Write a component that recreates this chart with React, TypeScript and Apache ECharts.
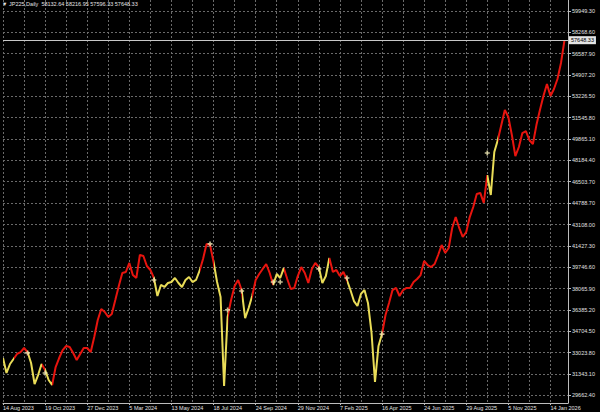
import React, { useEffect, useRef } from 'react';
import * as echarts from 'echarts';

const TITLE = '▼ JP225,Daily  58132.64 58216.95 57596.33 57648.33';
const LAST_PRICE = 57648.33;

const DATE_LABELS = [
  '14 Aug 2023', '19 Oct 2023', '27 Dec 2023', '5 Mar 2024', '13 May 2024', '18 Jul 2024', '24 Sep 2024',
  '29 Nov 2024', '7 Feb 2025', '16 Apr 2025', '24 Jun 2025', '29 Aug 2025', '5 Nov 2025', '14 Jan 2026',
];

const PRICE_TICKS = [
  29662.40, 31343.10, 33023.80, 34704.50, 36385.20, 38065.90, 39746.60, 41427.30, 43108.00, 44788.70,
  46503.70, 48184.40, 49865.10, 51545.80, 53226.50, 54907.20, 56587.90, 58268.60, 59949.30,
];

// closes sampled along the chart (about every 4 trading days)
const CLOSE: (number | null)[] = [
  32600, 31420, 32130, 32520, 32920, 33070, 33390, 33070, 32210, 30550,
  31260, 32130, 31660, 30870, 30470, 31890, 32600, 33230, 33550, 33470,
  33000, 32440, 32920, 33390, 33390, 33070, 34260, 35600, 36460, 36230,
  35830, 36070, 37170, 38280, 39300, 39380, 40090, 39140, 38910, 40720,
  40640, 39850, 39540, 38910, 37490, 38360, 38200, 38510, 38590, 38910,
  38510, 38200, 38750, 38990, 38590, 38750, 39460, 40400, 41590, 41510,
  40170, 38590, 37410, 30400, 35830, 37170, 38280, 38750, 37960, 35750,
  36540, 37490, 38750, 39220, 39620, 40010, 39300, 38360, 39220, 38910,
  39690, 38830, 38040, 38120, 39060, 39770, 39300, 38510, 39620, 40090,
  39770, 38510, 39060, 40480, 39380, 39540, 39060, 39380, 38750, 37960,
  37090, 36700, 37650, 37960, 36940, 34650, 30710, 33550, 34490, 35990,
  36940, 37960, 38120, 37490, 37960, 38120, 38120, 38590, 38830, 39140,
  40250, 39930, 39770, 40010, 40720, 41510, 40880, 41270, 42850, 43710,
  42850, 42140, 42530, 43710, 44500, 45530, 45610, 44820, 47020, 45450,
  48840, 49780, 50960, 52150, 51600, 50180, 48520, 49230, 50330, 50490,
  49780, 49470, 50960, 52150, 53250, 54200, 53250, 53800, 54590, 55850,
  57648.33, null,
];

// trend colouring: [fromIndex, toIndex, trend]
const TREND: [number, number, 'up' | 'down'][] = [
  [0, 3, 'down'], [3, 7, 'up'], [7, 11, 'down'], [11, 12, 'up'], [12, 14, 'down'],
  [14, 43, 'up'], [43, 56, 'down'], [56, 60, 'up'], [60, 64, 'down'], [64, 68, 'up'],
  [68, 71, 'down'], [71, 77, 'up'], [77, 80, 'down'], [80, 90, 'up'], [90, 93, 'down'],
  [93, 98, 'up'], [98, 108, 'down'], [108, 138, 'up'], [138, 141, 'down'], [141, 200, 'up'],
];

// signal crosses [index, price]
const SIGNALS: [number, number][] = [
  [7, 33000], [12, 31420], [43, 38750], [59, 41590], [64, 36390], [68, 37880],
  [77, 38590], [79, 38590], [90, 39620], [98, 38910], [108, 34490], [138, 48760],
];

const UP_COLOR = '#e8140e';
const DOWN_COLOR = '#e9dc57';
const TEXT_COLOR = '#e2e2e2';
const FONT = 'Liberation Sans';

export default function App() {
  const ref = useRef<HTMLDivElement>(null);
  useEffect(() => {
    if (!ref.current) return;
    const chart = echarts.init(ref.current, undefined, { renderer: 'svg' });
    const categories = CLOSE.map((_, i) => String(i));
    const gridLine = { show: true, lineStyle: { color: '#6a6a6a', type: [2, 2] as any, width: 1 } };
    chart.setOption({
      animation: false,
      backgroundColor: '#000000',
      title: {
        text: TITLE,
        left: 2,
        top: 1,
        padding: 0,
        textStyle: { color: TEXT_COLOR, fontSize: 5.5, fontWeight: 'normal', fontFamily: FONT },
      },
      grid: { left: 0, right: 32, top: 0, bottom: 9 },
      xAxis: {
        type: 'category',
        boundaryGap: false,
        data: categories,
        axisLine: { show: true, lineStyle: { color: '#bdbdbd', width: 1 } },
        axisTick: { show: true, length: 2, interval: (i: number) => i % 12 === 0, lineStyle: { color: '#bdbdbd' } },
        axisLabel: {
          interval: (i: number) => i % 12 === 0,
          formatter: (_v: string, i: number) => DATE_LABELS[i / 12] ?? '',
          align: 'left',
          margin: 2,
          color: TEXT_COLOR,
          fontSize: 5.5,
          fontFamily: FONT,
        },
        splitLine: { ...gridLine, interval: (i: number) => i % 6 === 0 },
      },
      yAxis: {
        type: 'value',
        position: 'right',
        min: 29055.6,
        max: 60816,
        axisLine: { show: true, lineStyle: { color: '#bdbdbd', width: 1 } },
        axisTick: { show: true, length: 3, customValues: PRICE_TICKS, lineStyle: { color: '#bdbdbd' } },
        axisLabel: {
          customValues: PRICE_TICKS,
          formatter: (v: number) => v.toFixed(2),
          margin: 4,
          color: TEXT_COLOR,
          fontSize: 5.5,
          fontFamily: FONT,
        },
        splitLine: gridLine,
      },
      visualMap: {
        show: false,
        type: 'piecewise',
        dimension: 0,
        seriesIndex: 0,
        pieces: TREND.map(([a, b, t]) => ({ gte: a, lt: b, color: t === 'up' ? UP_COLOR : DOWN_COLOR })),
      },
      series: [
        {
          type: 'line',
          data: CLOSE,
          symbol: 'none',
          lineStyle: { width: 2 },
          markLine: {
            silent: true,
            symbol: ['none', 'none'],
            lineStyle: { color: '#c8c8c8', type: 'solid', width: 1 },
            label: {
              position: 'end',
              formatter: LAST_PRICE.toFixed(2),
              color: '#000',
              backgroundColor: '#e4e4e4',
              fontSize: 5.5,
              fontFamily: FONT,
              padding: [1, 2],
              distance: 1,
            },
            data: [{ yAxis: LAST_PRICE }],
          },
        },
        {
          type: 'scatter',
          data: SIGNALS,
          symbol: 'path://M2,0H4V2H6V4H4V6H2V4H0V2H2Z',
          symbolSize: 5,
          itemStyle: { color: '#f5eeb8' },
          z: 5,
        },
      ],
    });
    return () => chart.dispose();
  }, []);
  return (
    <div
      ref={ref}
      style={{ position: 'fixed', left: 0, top: 0, width: 600, height: 412, background: '#000' }}
    />
  );
}
